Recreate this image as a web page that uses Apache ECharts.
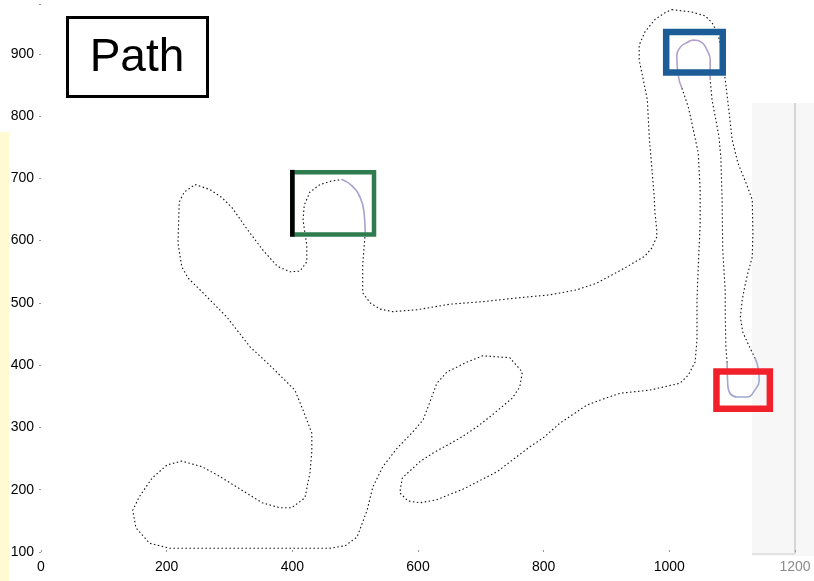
<!DOCTYPE html>
<html>
<head>
<meta charset="utf-8">
<title>Path</title>
<script src="https://cdn.jsdelivr.net/npm/echarts@6/dist/echarts.min.js"></script>
<style>
  html, body { margin: 0; padding: 0; background: #fff; }
  #chart { width: 814px; height: 581px; }
</style>
</head>
<body>
<div id="chart"></div>
<script>
// axis ticks
var xTicks = [0, 200, 400, 600, 800, 1000, 1200]
var yTicks = [100, 200, 300, 400, 500, 600, 700, 800, 900]

// robot path, split where it runs through the three turning boxes
// top, then down the right-hand column into the red box
var pathTop = [
  [1004, 971], [1036, 967], [1057, 961], [1068, 950], [1078, 931], [1084, 898], [1090, 850],
  [1095, 807], [1100, 762], [1109, 725], [1125, 685], [1132, 665], [1133, 612], [1132, 574],
  [1125, 548], [1120, 526], [1116, 505], [1113, 477], [1117, 453], [1124, 437], [1136, 412]
]
var redArc = [
  [1136, 412], [1141, 397], [1143, 376], [1136, 360], [1124, 349], [1108, 349], [1093, 368], [1092, 404]
]
// back up to the blue box
var pathUp = [
  [1092, 404], [1090, 429], [1089, 481], [1089, 518], [1085, 585], [1084, 665], [1082, 733],
  [1079, 767], [1068, 826], [1065, 858]
]
var blueArc = [
  [1065, 858], [1065, 890], [1060, 906], [1052, 918], [1038, 922], [1028, 918], [1017, 910],
  [1012, 895], [1014, 866], [1020, 845]
]
// down, through the loops at the bottom, round the left side to the green box
var pathMain = [
  [1020, 845], [1030, 815], [1033, 802], [1046, 741], [1049, 682], [1049, 625], [1046, 558],
  [1044, 505], [1044, 441], [1041, 405], [1030, 384], [1017, 371], [969, 360], [922, 355],
  [890, 344], [869, 336], [826, 307], [799, 283], [778, 269], [726, 229], [672, 201], [630, 184],
  [603, 179], [584, 182], [571, 195], [575, 219], [603, 245], [624, 259], [667, 283], [694, 301],
  [718, 320], [750, 347], [762, 365], [766, 389], [746, 412], [703, 415], [678, 405], [646, 389],
  [630, 371], [619, 341], [608, 312], [592, 293], [567, 267], [544, 237], [528, 204], [519, 167],
  [503, 124], [484, 110], [460, 106], [333, 106], [205, 106], [173, 114], [151, 139], [146, 167],
  [156, 188], [177, 219], [201, 240], [224, 246], [256, 237], [280, 224], [317, 201], [352, 179],
  [380, 171], [399, 171], [420, 187], [428, 227], [431, 261], [431, 291], [417, 328], [404, 360],
  [364, 400], [333, 429], [296, 477], [258, 516], [234, 540], [224, 558], [218, 596], [220, 662],
  [228, 678], [245, 690], [269, 682], [288, 669], [304, 653], [329, 617], [353, 585], [376, 559],
  [396, 550], [412, 551], [423, 566], [423, 593], [417, 633], [419, 657], [428, 678], [444, 690],
  [463, 696], [479, 698]
]
var greenArc = [
  [479, 698], [495, 688], [508, 669], [514, 646], [516, 612]
]
// along the middle and up the left column to the top
var pathBack = [
  [516, 612], [512, 561], [512, 516], [524, 500], [540, 490], [560, 486], [598, 489], [651, 498],
  [703, 502], [758, 508], [810, 513], [853, 521], [885, 532], [929, 556], [961, 575], [972, 588],
  [980, 606], [980, 617], [977, 646], [976, 670], [972, 718], [968, 767], [965, 826], [958, 861],
  [952, 890], [952, 914], [961, 935], [977, 955], [993, 966], [1004, 971]
]

// boxes: [x1, y1, x2, y2]
var greenBox = [400, 610, 530, 710]
var blueBox = [995, 870, 1085, 935]
var redBox = [1075, 330, 1160, 390]

var chart = echarts.init(document.getElementById('chart'), null, { renderer: 'canvas' })

function pathSeries(data) {
  return {
    type: 'line',
    data: data,
    showSymbol: false,
    symbol: 'none',
    smooth: false,
    z: 2,
    lineStyle: { color: '#111', width: 1.1, type: [1.5, 2.5] }
  }
}

function arcSeries(data, color) {
  return {
    type: 'line',
    data: data,
    symbol: 'none',
    smooth: true,
    z: 3,
    lineStyle: { color: color, width: 1.6 }
  }
}

function boxSeries(box, color, width, leftColor) {
  return {
    type: 'custom',
    z: 5,
    data: [box],
    encode: { x: [0, 2], y: [1, 3] },
    renderItem: function (params, api) {
      var p1 = api.coord([api.value(0), api.value(3)])
      var p2 = api.coord([api.value(2), api.value(1)])
      var children = [{
        type: 'rect',
        shape: { x: p1[0], y: p1[1], width: p2[0] - p1[0], height: p2[1] - p1[1] },
        style: { fill: 'none', stroke: color, lineWidth: width }
      }]
      if (leftColor) {
        children.push({
          type: 'line',
          shape: { x1: p1[0], y1: p1[1] - width / 2, x2: p1[0], y2: p2[1] + width / 2 },
          style: { stroke: leftColor, lineWidth: width }
        })
      }
      return { type: 'group', children: children }
    }
  }
}

var labelFont = { color: '#000', fontSize: 14, fontFamily: 'Liberation Sans, Arial, sans-serif' }

chart.setOption({
  animation: false,
  backgroundColor: '#fff',
  grid: { left: 41, right: 19, top: 4, bottom: 29, containLabel: false },
  graphic: [
    // faint grey panel on the right, as in the scan
    { type: 'rect', left: 752, top: 103, z: -10, shape: { width: 62, height: 453 }, style: { fill: '#f7f7f7' } },
    { type: 'line', z: -9, shape: { x1: 795, y1: 103, x2: 795, y2: 554 }, style: { stroke: '#d6d6d6', lineWidth: 2 } },
    { type: 'line', z: -9, shape: { x1: 752, y1: 554, x2: 795, y2: 554 }, style: { stroke: '#dddddd', lineWidth: 1.5 } },
    // pale yellow strip on the left edge
    { type: 'rect', left: 0, top: 132, z: -10, shape: { width: 9, height: 449 }, style: { fill: '#fffad2' } },
    // title box
    {
      type: 'rect', z: 10,
      shape: { x: 67.5, y: 17.5, width: 140, height: 79 },
      style: { fill: '#fff', stroke: '#000', lineWidth: 3 }
    },
    {
      type: 'text', z: 11, x: 137, y: 58,
      style: {
        text: 'Path', fill: '#000', align: 'center', verticalAlign: 'middle',
        font: '46px "Liberation Sans", Arial, sans-serif'
      }
    }
  ],
  xAxis: {
    type: 'value',
    min: xTicks[0],
    max: xTicks[xTicks.length - 1],
    interval: xTicks[1] - xTicks[0],
    axisLine: { show: false },
    axisTick: { show: true, inside: true, length: 2, lineStyle: { color: '#999' } },
    splitLine: { show: false },
    axisLabel: Object.assign({
      margin: 8,
      formatter: function (v) { return v === 1200 ? '{g|1200}' : String(v) },
      rich: { g: { color: '#8a8a8a', fontSize: 14, fontFamily: 'Liberation Sans, Arial, sans-serif' } }
    }, labelFont)
  },
  yAxis: {
    type: 'value',
    min: yTicks[0],
    max: 980,
    interval: yTicks[1] - yTicks[0],
    axisLine: { show: false },
    axisTick: { show: true, inside: false, length: 2, lineStyle: { color: '#999' } },
    splitLine: { show: false },
    axisLabel: Object.assign({
      margin: 7,
      formatter: function (v) { return yTicks.indexOf(v) >= 0 ? String(v) : '' }
    }, labelFont)
  },
  series: [
    pathSeries(pathTop),
    pathSeries(pathUp),
    pathSeries(pathMain),
    pathSeries(pathBack),
    arcSeries(redArc, '#a3a9cc'),
    arcSeries(blueArc, '#b19fcb'),
    arcSeries(greenArc, '#aaa0cf'),
    boxSeries(greenBox, '#2f7d4f', 4.5, '#000'),
    boxSeries(blueBox, '#1c5d97', 6.5),
    boxSeries(redBox, '#f2202a', 6.5)
  ]
})
</script>
</body>
</html>
